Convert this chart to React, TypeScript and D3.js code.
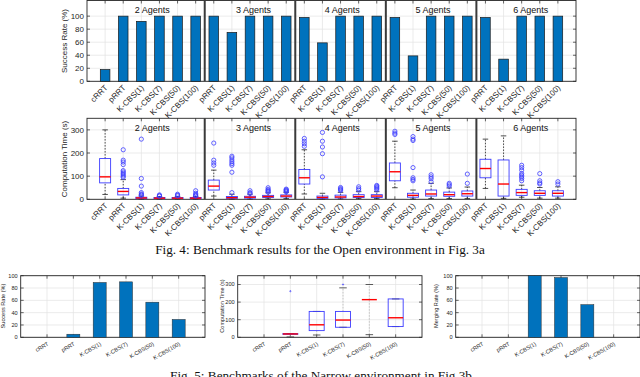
import React from "react";
import * as d3 from "d3";

const methods = ["cRRT", "pRRT", "K-CBS(1)", "K-CBS(7)", "K-CBS(50)", "K-CBS(100)"];
const agentGroups = ["2 Agents", "3 Agents", "4 Agents", "5 Agents", "6 Agents"];
const groupTitleAt = [3.6, 9.2, 14.1, 19.1, 24.5];

// Fig. 4 success rate (%), one row per agent group (2 agents has cRRT too)
const openSuccess = [
  [18, 100, 92, 100, 100, 100],
  [100, 75, 100, 100, 100],
  [98, 59, 100, 100, 100],
  [98, 39, 100, 100, 100],
  [98, 34, 100, 100, 100],
];

// box stats: [low whisker, q1, median, q3, high whisker]
const openTimeStats = [
  [[21, 71, 97, 176, 300], [5, 19, 34, 47, 85], [1, 3, 6, 9, 14], [1, 3, 5, 8, 12], [1, 3, 5, 8, 12], [1, 3, 5, 8, 12]],
  [[14, 40, 57, 83, 126], [1, 4, 7, 12, 22], [1, 5, 9, 13, 22], [2, 8, 12, 17, 28], [3, 10, 14, 19, 30]],
  [[23, 66, 93, 129, 214], [1, 4, 8, 14, 26], [2, 6, 10, 18, 30], [3, 8, 12, 20, 33], [3, 8, 14, 20, 33]],
  [[50, 80, 119, 157, 251], [1, 9, 17, 26, 40], [3, 14, 23, 40, 69], [3, 13, 20, 31, 49], [3, 14, 24, 36, 53]],
  [[47, 93, 133, 173, 260], [4, 14, 66, 170, 274], [9, 17, 29, 43, 61], [5, 17, 26, 37, 51], [5, 14, 26, 37, 54]],
];
const openTimeOutliers = [
  [[], [95, 100, 106, 112, 118, 124, 150, 161, 169, 214], [17, 20, 23, 29, 57, 90, 260], [14, 16, 19], [15, 18, 22], [14, 17, 20, 26, 37]],
  [[147, 157, 169, 243], [29, 117, 147, 154, 162, 170, 179, 186], [25, 29, 37], [31, 35, 39, 43, 50], [32, 35, 38, 41, 44]],
  [[229, 240, 251, 263], [97, 197, 226, 251, 289], [38, 42, 46, 51], [40, 46, 54], [40, 46, 51, 56, 60]],
  [[280, 286, 294], [80, 86, 93, 137, 254, 260, 271], [76, 89, 97, 106], [57, 63, 69], [69, 109]],
  [[], [], [80, 90, 97, 104, 111, 126, 137, 147], [66, 71, 80, 111], [66, 76]],
];

// Fig. 5 narrow environment
const narrowSuccess = [0, 5, 89, 90, 57, 29];
const narrowMerging = [0, 0, 100, 97, 53, 0];
const narrowTimeStats = [null, [2, 17, 19, 21, 21], [13, 38, 71, 147, 147], [57, 57, 98, 147, 281], [15, 214, 214, 214, 300], [61, 61, 111, 218, 218]];
const narrowTimeOutliers = [[], [262], [], [300], [], []];

const successTicks = [0, 20, 40, 60, 80, 100];
const timeTicks = [0, 100, 200, 300];

const SANS = '"Liberation Sans", Arial, Helvetica, sans-serif';
const SERIF = '"Liberation Serif", "Times New Roman", serif';
const AXIS = "#262626";
const GRID = "#e3e3e3";
const BAR = "#0072bd";
const BOXC = "#3c3cff";

const openCats = agentGroups.flatMap((g, gi) =>
  (gi === 0 ? methods : methods.slice(1)).map((m, j) => ({ group: gi, label: m, j }))
);
const separators = [6.5, 11.5, 16.5, 21.5];

type Stat = number[] | null;

function Frame({ x, y, n, yTicks, fs, labels, labelRot, labelDy }: any) {
  const [x0, x1] = x.range();
  const [yb] = y.range();
  const yt = y(y.domain()[1]);
  const ks = d3.range(1, n + 1);
  return (
    <g>
      {yTicks.map((t: number) => (
        <line key={"gy" + t} x1={x0} x2={x1} y1={y(t)} y2={y(t)} stroke={GRID} strokeWidth={0.7} />
      ))}
      {ks.map((k) => (
        <line key={"gx" + k} x1={x(k)} x2={x(k)} y1={yt} y2={yb} stroke={GRID} strokeWidth={0.7} />
      ))}
      <rect x={x0} y={yt} width={x1 - x0} height={yb - yt} fill="none" stroke={AXIS} strokeWidth={0.9} />
      {yTicks.map((t: number) => (
        <g key={"ty" + t}>
          <line x1={x0} x2={x0 + 3} y1={y(t)} y2={y(t)} stroke={AXIS} strokeWidth={0.7} />
          <line x1={x1} x2={x1 - 3} y1={y(t)} y2={y(t)} stroke={AXIS} strokeWidth={0.7} />
          <text x={x0 - 3} y={y(t)} dy="0.35em" textAnchor="end" fontSize={fs} fontFamily={SANS} fill={AXIS}>
            {t}
          </text>
        </g>
      ))}
      {ks.map((k) => (
        <g key={"tx" + k}>
          <line x1={x(k)} x2={x(k)} y1={yb} y2={yb - 3} stroke={AXIS} strokeWidth={0.7} />
          <line x1={x(k)} x2={x(k)} y1={yt} y2={yt + 3} stroke={AXIS} strokeWidth={0.7} />
          <text
            transform={`translate(${x(k) + 1},${yb + labelDy}) rotate(${-labelRot})`}
            dy="0.35em"
            textAnchor="end"
            fontSize={fs}
            fontFamily={SANS}
            fill={AXIS}
          >
            {labels[k - 1]}
          </text>
        </g>
      ))}
    </g>
  );
}

function Box({ cx, w, s, outl, y, r, whiskerColor, capColor }: any) {
  const [lo, q1, md, q3, hi] = s as number[];
  return (
    <g>
      <line x1={cx} x2={cx} y1={y(q3)} y2={y(hi)} stroke={whiskerColor} strokeWidth={0.8} strokeDasharray="1.5,1.5" />
      <line x1={cx} x2={cx} y1={y(lo)} y2={y(q1)} stroke={whiskerColor} strokeWidth={0.8} strokeDasharray="1.5,1.5" />
      <line x1={cx - w / 4} x2={cx + w / 4} y1={y(hi)} y2={y(hi)} stroke={capColor} strokeWidth={0.8} />
      <line x1={cx - w / 4} x2={cx + w / 4} y1={y(lo)} y2={y(lo)} stroke={capColor} strokeWidth={0.8} />
      <rect x={cx - w / 2} y={y(q3)} width={w} height={Math.max(0, y(q1) - y(q3))} fill="none" stroke={BOXC} strokeWidth={0.9} />
      <line x1={cx - w / 2} x2={cx + w / 2} y1={y(md)} y2={y(md)} stroke="#ff0000" strokeWidth={1.4} />
      {outl.map((o: number, i: number) => (
        <circle key={i} cx={cx} cy={y(o)} r={r} fill="none" stroke={BOXC} strokeWidth={0.8} />
      ))}
    </g>
  );
}

export default function App() {
  const xOpen = d3.scaleLinear().domain([0, 27]).range([87, 576]);
  const ySucc = d3.scaleLinear().domain([0, 124]).range([81.3, 0.5]);
  const yTime = d3.scaleLinear().domain([0, 350]).range([199.3, 118.3]);
  const openLabels = openCats.map((c) => c.label);

  const yN = d3.scaleLinear().domain([0, 100]).range([337.3, 275.7]);
  const yNT = d3.scaleLinear().domain([0, 350]).range([337.3, 275.7]);
  const xN1 = d3.scaleLinear().domain([0, 7]).range([20.7, 205]);
  const xN2 = d3.scaleLinear().domain([0, 7]).range([237.7, 422]);
  const xN3 = d3.scaleLinear().domain([0, 7]).range([455.7, 640]);

  const sep = (y: any) =>
    separators.map((s) => (
      <line key={"s" + s} x1={xOpen(s)} x2={xOpen(s)} y1={y(y.domain()[1])} y2={y(0)} stroke="#3a3a3a" strokeWidth={2} />
    ));
  const titles = (yb: number) =>
    agentGroups.map((g, i) => (
      <text key={g} x={xOpen(groupTitleAt[i])} y={yb} textAnchor="middle" fontSize={9} fontFamily={SANS} fill="#111">
        {g}
      </text>
    ));

  return (
    <svg width={640} height={377} style={{ position: "absolute", left: 0, top: 0, background: "#fff" }}>
      {/* Fig. 4 success rate */}
      <Frame x={xOpen} y={ySucc} n={26} yTicks={successTicks} fs={8} labels={openLabels} labelRot={45} labelDy={5} />
      {openCats.map((c, k) => {
        const v = openSuccess[c.group][c.j];
        return (
          <rect key={k} x={xOpen(k + 1) - 4.8} y={ySucc(v)} width={9.6} height={ySucc(0) - ySucc(v)} fill={BAR} stroke="#1a1a1a" strokeWidth={0.7} />
        );
      })}
      {sep(ySucc)}
      {titles(13)}
      <text transform={`translate(67,41) rotate(-90)`} textAnchor="middle" fontSize={8} fontFamily={SANS} fill={AXIS}>
        Success Rate (%)
      </text>

      {/* Fig. 4 computation time */}
      <Frame x={xOpen} y={yTime} n={26} yTicks={timeTicks} fs={8} labels={openLabels} labelRot={45} labelDy={5} />
      {openCats.map((c, k) => (
        <Box
          key={k}
          cx={xOpen(k + 1)}
          w={11}
          s={openTimeStats[c.group][c.j]}
          outl={openTimeOutliers[c.group][c.j]}
          y={yTime}
          r={2.1}
          whiskerColor="#222"
          capColor="#222"
        />
      ))}
      {sep(yTime)}
      {titles(131)}
      <text transform={`translate(67,159) rotate(-90)`} textAnchor="middle" fontSize={8} fontFamily={SANS} fill={AXIS}>
        Computation Time (s)
      </text>

      <text x={320} y={254} textAnchor="middle" fontSize={13.2} fontFamily={SERIF} fill="#111">
        Fig. 4: Benchmark results for the Open environment in Fig. 3a
      </text>

      {/* Fig. 5 success */}
      <Frame x={xN1} y={yN} n={6} yTicks={successTicks} fs={5.6} labels={methods} labelRot={30} labelDy={6} />
      {narrowSuccess.map((v, i) => (
        <rect key={i} x={xN1(i + 1) - 6.5} y={yN(v)} width={13} height={yN(0) - yN(v)} fill={BAR} stroke={v > 0 ? "#2a2a2a" : "none"} strokeWidth={0.5} />
      ))}
      <text transform={`translate(5,306) rotate(-90)`} textAnchor="middle" fontSize={5.6} fontFamily={SANS} fill={AXIS}>
        Success Rate (%)
      </text>

      {/* Fig. 5 time */}
      <Frame x={xN2} y={yNT} n={6} yTicks={timeTicks} fs={5.6} labels={methods} labelRot={30} labelDy={6} />
      {narrowTimeStats.map((s: Stat, i) =>
        s ? (
          <Box key={i} cx={xN2(i + 1)} w={15} s={s} outl={narrowTimeOutliers[i]} y={yNT} r={0.6} whiskerColor="#bbb" capColor="#333" />
        ) : null
      )}
      <text transform={`translate(224,306) rotate(-90)`} textAnchor="middle" fontSize={5.6} fontFamily={SANS} fill={AXIS}>
        Computation Time (s)
      </text>

      {/* Fig. 5 merging */}
      <Frame x={xN3} y={yN} n={6} yTicks={successTicks} fs={5.6} labels={methods} labelRot={30} labelDy={6} />
      {narrowMerging.map((v, i) => (
        <rect key={i} x={xN3(i + 1) - 6.5} y={yN(v)} width={13} height={yN(0) - yN(v)} fill={BAR} stroke={v > 0 ? "#2a2a2a" : "none"} strokeWidth={0.5} />
      ))}
      <text transform={`translate(438,306) rotate(-90)`} textAnchor="middle" fontSize={5.6} fontFamily={SANS} fill={AXIS}>
        Merging Rate (%)
      </text>

      <text x={321} y={380} textAnchor="middle" fontSize={13.2} fontFamily={SERIF} fill="#111">
        Fig. 5: Benchmarks of the Narrow environment in Fig 3b
      </text>
    </svg>
  );
}
